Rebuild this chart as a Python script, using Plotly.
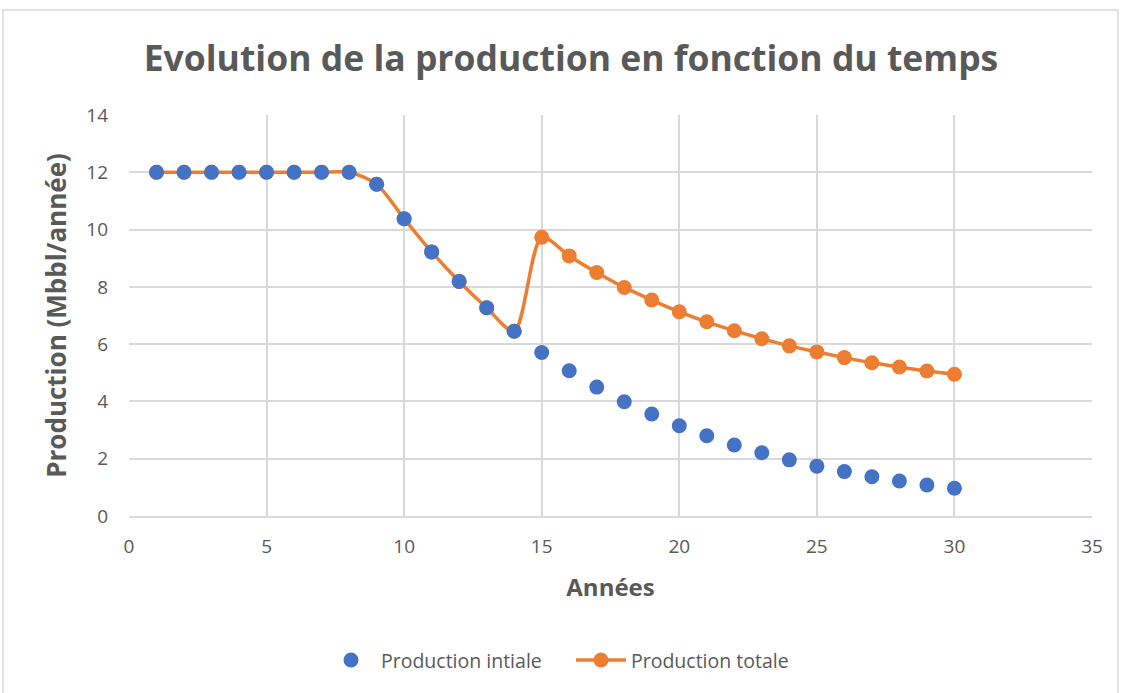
import plotly.graph_objects as go

annees = list(range(1, 31))
production_initiale = [12, 12, 12, 12, 12, 12, 12, 12, 11.58, 10.38, 9.22, 8.19, 7.27, 6.45,
                       5.71, 5.07, 4.50, 3.99, 3.56, 3.15, 2.80, 2.48, 2.21, 1.96, 1.74,
                       1.55, 1.37, 1.22, 1.08, 0.97]
production_totale = [12, 12, 12, 12, 12, 12, 12, 12, 11.58, 10.38, 9.22, 8.19, 7.27, 6.45,
                     9.73, 9.08, 8.50, 7.98, 7.54, 7.13, 6.78, 6.47, 6.19, 5.94, 5.73,
                     5.53, 5.35, 5.20, 5.06, 4.95]

BLUE = "#4472C4"
ORANGE = "#ED7D31"
GRAY = "#595959"
FONT = "Open Sans"

fig = go.Figure()
fig.add_trace(go.Scatter(
    x=annees, y=production_totale, name="Production totale",
    mode="lines+markers", line=dict(color=ORANGE, width=3.5, shape="spline", smoothing=0.8),
    marker=dict(color=ORANGE, size=15), legendrank=2))
fig.add_trace(go.Scatter(
    x=annees, y=production_initiale, name="Production intiale",
    mode="markers", marker=dict(color=BLUE, size=15), legendrank=1))

fig.update_layout(
    width=1126, height=693,
    paper_bgcolor="white", plot_bgcolor="white",
    margin=dict(l=129, r=34, t=115, b=177),
    font=dict(family=FONT, color=GRAY, size=19),
    title=dict(text="<b>Evolution de la production en fonction du temps</b>",
               xref="container", x=571 / 1126, xanchor="center", y=0.916, yanchor="middle",
               font=dict(size=35.5, color=GRAY, family=FONT)),
    showlegend=True,
    legend=dict(orientation="h", x=(571 - 129) / 963, xanchor="center", y=-0.36, yanchor="middle",
                font=dict(size=19.5, color=GRAY), traceorder="normal", itemwidth=50,
                entrywidth=185),
    xaxis=dict(range=[0, 35], dtick=5, showgrid=True, gridcolor="#D9D9D9", gridwidth=1.5,
               zeroline=False, showline=True, linecolor="#D9D9D9", linewidth=1.5,
               ticks="", ticklabelstandoff=12, tickfont=dict(size=19, color=GRAY),
               title=dict(text="<b>Années</b>", font=dict(size=24, color=GRAY), standoff=22)),
    yaxis=dict(range=[0, 14], dtick=2, showgrid=True, gridcolor="#D9D9D9", gridwidth=1.5,
               zeroline=False, showline=False, ticks="", ticklabelstandoff=20,
               tickfont=dict(size=19, color=GRAY),
               title=dict(text="<b>Production (Mbbl/année)</b>", font=dict(size=26, color=GRAY), standoff=12)),
    shapes=[dict(type="rect", xref="paper", yref="paper",
                 x0=(3 - 129) / 963, x1=(1118 - 129) / 963, y0=(516 - 700) / 401, y1=(516 - 10) / 401,
                 line=dict(color="#D9D9D9", width=1.5), fillcolor="rgba(0,0,0,0)", layer="below")],
)

fig.write_html("out.html", config={"displayModeBar": False},
               post_script="document.body.style.margin='0px';document.body.style.overflow='hidden';")
